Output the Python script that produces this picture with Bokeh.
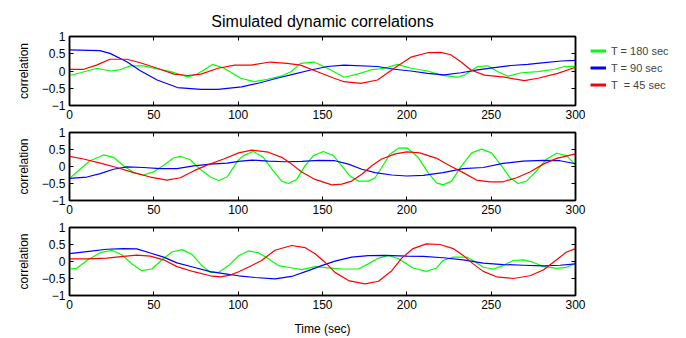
from bokeh.plotting import figure
from bokeh.layouts import column, row
from bokeh.models import Range1d, FixedTicker, LinearAxis, Legend, LegendItem
from bokeh.embed import file_html
from bokeh.resources import INLINE

# ---------------- data ----------------
title_text = "Simulated dynamic correlations"
x_label = "Time (sec)"
y_label = "correlation"
series_labels = ["T = 180 sec", "T = 90 sec", "T  = 45 sec"]
series_colors = ["#00ff00", "#0000ff", "#ff0000"]
x_ticks = [0, 50, 100, 150, 200, 250, 300]
x_tick_labels = ["0", "50", "100", "150", "200", "250", "300"]
y_ticks = [-1, -0.5, 0, 0.5, 1]
y_tick_labels = ["\u22121", "\u22120.5", "0", "0.5", "1"]

# subplot 1
t1_green = [0, 6.5, 16.4, 24.4, 29.3, 36.2, 44, 50, 60, 70, 75.8, 84.8, 91.7, 101.6, 109.5, 117.4, 125.3, 131.3, 137, 145, 153, 162.8, 170.7, 178.6, 186.6, 194.5, 202.4, 212.3, 220.2, 230.1, 234, 242, 248, 254, 260, 268, 277.7, 287.6, 293.5, 300]
v1_green = [-0.13, -0.05, 0.08, 0, 0.03, 0.15, 0.15, 0.08, -0.02, -0.17, -0.09, 0.19, 0.08, -0.21, -0.31, -0.24, -0.15, -0.02, 0.22, 0.26, 0.08, -0.18, -0.09, 0.03, 0.08, 0.19, 0.08, 0, -0.12, -0.18, -0.12, 0.13, 0.15, -0.02, -0.15, -0.05, -0.02, 0.05, 0.13, 0.13]
t1_blue = [0, 18, 24, 34, 42, 52, 64, 78, 88, 102, 113, 123, 133, 143, 153, 162.8, 182.6, 192.5, 202.4, 212.3, 222.2, 232.1, 242, 251.9, 261.8, 271.7, 281.6, 291.5, 300]
v1_blue = [0.61, 0.59, 0.51, 0.27, 0.01, -0.26, -0.48, -0.53, -0.53, -0.46, -0.34, -0.21, -0.09, 0.03, 0.13, 0.17, 0.13, 0.05, 0, -0.07, -0.11, -0.05, 0.03, 0.1, 0.16, 0.19, 0.24, 0.29, 0.31]
t1_red = [0, 8.5, 16, 24, 34, 42, 52, 62, 70, 78, 88, 98, 107.5, 119, 129, 137, 147, 157, 162.8, 172.7, 182.6, 192.5, 202.4, 212.3, 220.2, 226, 232, 238, 246, 258, 269.7, 277.7, 289.5, 300]
v1_red = [0.05, 0.05, 0.17, 0.34, 0.34, 0.24, 0.08, -0.09, -0.13, -0.09, 0.08, 0.17, 0.17, 0.26, 0.22, 0.17, -0.02, -0.21, -0.31, -0.36, -0.26, 0.08, 0.4, 0.53, 0.54, 0.47, 0.27, 0.03, -0.12, -0.18, -0.28, -0.21, -0.07, 0.11]

# subplot 2
t2_green = [0, 6.3, 12.2, 20.2, 26.1, 32, 38, 43.9, 49.8, 55.8, 61.7, 65.7, 71.6, 77.5, 83.5, 88.4, 93.4, 97.3, 100.3, 103, 109, 114.9, 120.8, 125.8, 129.8, 134.7, 139.6, 144.6, 150.5, 156.5, 161.4, 166.3, 171.3, 177.2, 181.2, 185.1, 190.1, 195, 200, 206.7, 212.6, 217.6, 221.5, 226.5, 232.4, 238.4, 244.3, 250.2, 256.2, 261.1, 266.1, 271, 276.9, 282.9, 288.8, 294.7, 300]
v2_green = [-0.35, -0.08, 0.17, 0.34, 0.27, 0.02, -0.18, -0.25, -0.16, 0.04, 0.25, 0.3, 0.2, -0.08, -0.31, -0.41, -0.31, -0.02, 0.2, 0.32, 0.44, 0.27, -0.13, -0.43, -0.5, -0.38, 0.02, 0.32, 0.44, 0.32, 0.02, -0.28, -0.43, -0.43, -0.33, -0.03, 0.37, 0.54, 0.55, 0.27, -0.18, -0.48, -0.54, -0.43, 0.02, 0.4, 0.51, 0.4, 0.02, -0.33, -0.5, -0.43, -0.13, 0.22, 0.39, 0.32, 0.05]
t2_blue = [0, 10.3, 18.2, 26.1, 34, 43.9, 53.8, 63.7, 73.6, 83.5, 93.4, 100.3, 108, 117.9, 127.8, 137.7, 147.6, 157.4, 165.4, 173.3, 181.2, 191.1, 200, 209.7, 221.5, 233.4, 245.3, 257.1, 269, 280.9, 290.8, 300]
v2_blue = [-0.35, -0.31, -0.21, -0.08, -0.01, -0.03, -0.06, -0.06, 0.02, 0.07, 0.1, 0.15, 0.19, 0.16, 0.14, 0.15, 0.18, 0.17, 0.07, -0.08, -0.18, -0.25, -0.28, -0.26, -0.18, -0.06, -0.03, 0.09, 0.16, 0.18, 0.17, 0.08]
t2_red = [0, 8.3, 18.2, 28, 38, 47.9, 57.8, 65.7, 73.6, 81.5, 91.4, 100.3, 108, 117.9, 125.8, 131.7, 137.7, 145.6, 155.5, 161.4, 167.3, 173.3, 179.2, 185.1, 193.1, 200, 207.7, 217.6, 225.5, 233.4, 241.3, 249.2, 257.1, 265.1, 273, 280.9, 288.8, 300]
v2_red = [0.3, 0.22, 0.1, -0.03, -0.18, -0.31, -0.4, -0.33, -0.13, 0.04, 0.22, 0.4, 0.48, 0.42, 0.27, 0.07, -0.16, -0.38, -0.54, -0.52, -0.43, -0.23, 0.02, 0.22, 0.37, 0.43, 0.4, 0.24, 0.02, -0.18, -0.4, -0.45, -0.45, -0.33, -0.16, 0.07, 0.24, 0.37]

# subplot 3
t3_green = [0, 4.3, 10.3, 18.2, 25.1, 31, 37, 42.9, 48.8, 54.8, 60.7, 66.7, 72.6, 78.5, 83.5, 88.4, 94.3, 100.3, 106, 111.9, 117.9, 123.8, 129.8, 137.7, 145.6, 153.5, 161.4, 171.3, 177.2, 183.2, 189.1, 195, 200, 203.7, 211.6, 217.6, 221.5, 227.5, 235.4, 239.3, 245.3, 251.2, 257.1, 263.1, 269, 274.9, 280.9, 288.8, 294.7, 300]
v3_green = [-0.22, -0.2, 0.03, 0.26, 0.33, 0.2, -0.07, -0.27, -0.22, 0.05, 0.28, 0.35, 0.21, -0.12, -0.32, -0.32, -0.12, 0.17, 0.31, 0.26, 0.08, -0.12, -0.17, -0.24, -0.15, -0.19, -0.22, -0.22, -0.07, 0.1, 0.18, 0.08, -0.07, -0.19, -0.29, -0.19, 0.03, 0.13, 0.13, 0.03, -0.17, -0.22, -0.12, 0.03, 0.05, -0.02, -0.15, -0.2, -0.17, -0.05]
t3_blue = [0, 10.3, 22.1, 32, 39.9, 47.9, 55.8, 63.7, 73.6, 83.5, 93.4, 100.3, 110, 121.8, 131.7, 141.6, 149.5, 157.4, 167.3, 177.2, 187.1, 200, 209.7, 221.5, 233.4, 245.3, 257.1, 269, 280.9, 290.8, 300]
v3_blue = [0.23, 0.29, 0.36, 0.38, 0.37, 0.25, 0.13, -0.04, -0.17, -0.3, -0.37, -0.42, -0.47, -0.51, -0.44, -0.27, -0.12, 0.01, 0.13, 0.17, 0.18, 0.16, 0.15, 0.11, 0.05, -0.05, -0.09, -0.11, -0.13, -0.11, -0.07]
t3_red = [0, 10.3, 22.1, 32, 39.9, 47.9, 55.8, 63.7, 73.6, 83.5, 89.4, 95.3, 100.3, 106, 113.9, 121.8, 131.7, 139.6, 145.6, 151.5, 157.4, 165.4, 175.2, 183.2, 191.1, 197, 203.7, 211.6, 219.6, 227.5, 233.4, 239.3, 245.3, 253.2, 263.1, 273, 280.9, 288.8, 294.7, 300]
v3_red = [0.08, 0.08, 0.1, 0.15, 0.19, 0.16, 0.05, -0.15, -0.3, -0.42, -0.45, -0.4, -0.3, -0.17, 0.03, 0.33, 0.47, 0.41, 0.23, -0.02, -0.32, -0.56, -0.66, -0.58, -0.27, 0.1, 0.38, 0.52, 0.5, 0.38, 0.18, -0.07, -0.29, -0.45, -0.5, -0.42, -0.25, 0.05, 0.28, 0.38]

subplots = [
    [(t1_green, v1_green), (t1_blue, v1_blue), (t1_red, v1_red)],
    [(t2_green, v2_green), (t2_blue, v2_blue), (t2_red, v2_red)],
    [(t3_green, v3_green), (t3_blue, v3_blue), (t3_red, v3_red)],
]

# ---------------- styling ----------------
FONT = "Liberation Sans"
TICK_FS = "12px"


def style_axis(ax, ticks, labels, show_labels):
    ax.ticker = FixedTicker(ticks=ticks)
    if show_labels:
        ax.major_label_overrides = {t: l for t, l in zip(ticks, labels)}
    else:
        ax.major_label_overrides = {t: "" for t in ticks}
    ax.major_tick_in = 4
    ax.major_tick_out = 0
    ax.minor_tick_line_color = None
    ax.axis_line_width = 1.5
    ax.major_tick_line_width = 1
    ax.major_label_text_font = FONT
    ax.major_label_text_font_size = TICK_FS
    ax.major_label_text_color = "black"
    ax.major_label_standoff = 4
    ax.axis_label_text_font = FONT
    ax.axis_label_text_font_size = "12px"
    ax.axis_label_text_font_style = "normal"
    ax.axis_label_text_color = "black"


heights = [122, 95, 121]
tops = [36, 10, 10]
bottoms = [17, 17, 43]
widths = [585, 686, 686]
rights = [10, 111, 111]

figs = []
for i, series in enumerate(subplots):
    p = figure(width=widths[i], height=heights[i], output_backend="svg", toolbar_location=None,
               x_range=Range1d(0, 300), y_range=Range1d(-1, 1),
               min_border_left=69, min_border_right=rights[i],
               min_border_top=tops[i], min_border_bottom=bottoms[i])
    p.xgrid.visible = False
    p.ygrid.visible = False
    p.outline_line_color = "black"
    p.outline_line_width = 1.5
    p.background_fill_color = "white"
    p.border_fill_color = "white"

    style_axis(p.xaxis[0], x_ticks, x_tick_labels, True)
    style_axis(p.yaxis[0], y_ticks, y_tick_labels, True)
    p.yaxis[0].axis_label = y_label
    p.yaxis[0].axis_label_standoff = 8
    if i == 2:
        p.xaxis[0].axis_label = x_label
        p.xaxis[0].axis_label_standoff = 10

    top_ax = LinearAxis()
    style_axis(top_ax, x_ticks, x_tick_labels, False)
    top_ax.major_label_standoff = 0
    p.add_layout(top_ax, "above")
    right_ax = LinearAxis()
    style_axis(right_ax, y_ticks, y_tick_labels, False)
    right_ax.major_label_standoff = 0
    p.add_layout(right_ax, "right")

    for (t, v), c in zip(series, series_colors):
        p.line(t, v, line_color=c, line_width=1.2)

    if i == 0:
        p.title.text = title_text
        p.title.align = "center"
        p.title.text_font = FONT
        p.title.text_font_size = "16px"
        p.title.text_font_style = "normal"
        p.title.text_color = "black"
        p.title.standoff = 13
    figs.append(p)

# legend panel to the right of the first subplot
nan = float("nan")
lp = figure(width=101, height=122, output_backend="svg", toolbar_location=None,
            x_range=Range1d(0, 1), y_range=Range1d(0, 1),
            x_axis_type=None, y_axis_type=None,
            min_border_left=0, min_border_right=0, min_border_top=0, min_border_bottom=0)
lp.outline_line_color = None
lp.xgrid.visible = False
lp.ygrid.visible = False
items = []
for lab, c in zip(series_labels, series_colors):
    r = lp.line([nan, nan], [nan, nan], line_color=c, line_width=3)
    items.append(LegendItem(label=lab, renderers=[r]))
leg = Legend(items=items, location=(5, 12), orientation="vertical",
             glyph_width=16, glyph_height=17, label_height=17, spacing=0,
             padding=0, margin=0, label_standoff=5,
             label_text_font=FONT, label_text_font_size="11px",
             border_line_color=None, background_fill_alpha=0)
lp.add_layout(leg, "center")

layout = column(row(figs[0], lp, spacing=0), figs[1], figs[2], spacing=0)
open("out.html", "w").write(file_html(layout, INLINE))
